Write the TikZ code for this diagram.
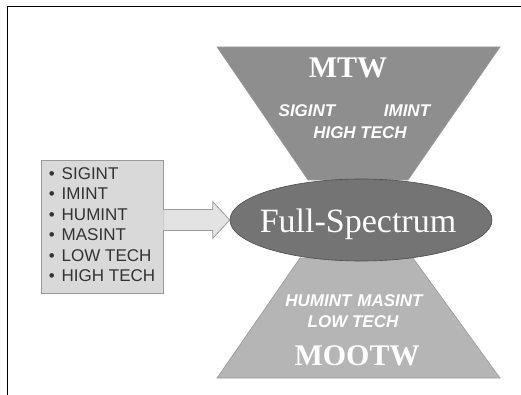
\documentclass[tikz,border=0pt]{standalone}
\usepackage{fontspec}
\setmainfont{Liberation Serif}
\setsansfont{Liberation Sans}
\usetikzlibrary{shapes.geometric,calc}

\definecolor{topgray}{HTML}{8E8E8E}
\definecolor{midgray}{HTML}{747474}
\definecolor{lowgray}{HTML}{B5B5B5}
\definecolor{boxgray}{HTML}{D9D9D9}
\definecolor{arrowgray}{HTML}{E3E3E3}
\definecolor{edgegray}{HTML}{9A9A9A}
\definecolor{listtext}{HTML}{333333}

\begin{document}
\begin{tikzpicture}[x=1pt, y=-1pt,
band/.style = {draw=edgegray, line width=0.6pt},
spectrum/.style = {ellipse, draw=black!70, line width=0.6pt, fill=midgray, minimum width=262pt, minimum height=82pt, inner sep=0pt},
bigword/.style = {text=white, anchor=base, inner sep=0pt, font=\fontsize{30}{30}\selectfont\bfseries},
smallword/.style = {text=white, anchor=base, inner sep=0pt, font=\fontsize{17}{17}\selectfont\sffamily\bfseries\itshape},
listbox/.style = {draw=edgegray, line width=0.8pt, fill=boxgray, minimum width=122pt, minimum height=133pt, inner sep=0pt, text=listtext},
blockarrow/.style = {draw=edgegray, line width=0.8pt, fill=arrowgray},
]

\useasboundingbox (0,0) rectangle (521,395);

% Draw frame
\draw[line width=1pt] (7,395) -- (7,7) -- (521,7);

% Draw the two bands
\fill[topgray, band] (217,47) -- (500,47) -- (408,180) -- (308,180) -- cycle;
\fill[lowgray, band] (300,258) -- (413,258) -- (500,378) -- (217,378) -- cycle;

% Draw list and centre
\node[listbox] (list) at (102,226.5) {\fontsize{17}{20.4}\selectfont\sffamily
\begin{tabular}{@{}l@{\hspace{7pt}}l@{}}
\textbullet & SIGINT\\
\textbullet & IMINT\\
\textbullet & HUMINT\\
\textbullet & MASINT\\
\textbullet & LOW TECH\\
\textbullet & HIGH TECH
\end{tabular}};
\node[spectrum] (full) at (361,220) {};
\node[text=white, anchor=base, inner sep=0pt, font=\fontsize{34}{34}\selectfont] (fulltext) at (358,232) {Full-Spectrum};

% Draw arrow
\draw[blockarrow] ($(list.east |- full.west)+(0,-10.5)$) -- ($(full.west)+(-17,-10.5)$)
  -- ($(full.west)+(-17,-18.5)$) -- (full.west) -- ($(full.west)+(-17,18.5)$)
  -- ($(full.west)+(-17,10.5)$) -- ($(list.east |- full.west)+(0,10.5)$);

% Label bands
\node[bigword] (mtw) at (348,78) {MTW};
\node[smallword] (sigint) at (307,117) {SIGINT};
\node[smallword] (imint) at (407,117) {IMINT};
\node[smallword] (hightech) at (360,139) {HIGH TECH};
\node[smallword] (humint) at (354,306) {HUMINT\hspace{6pt}MASINT};
\node[smallword] (lowtech) at (353,327) {LOW TECH};
\node[bigword] (mootw) at (357,365) {MOOTW};

\end{tikzpicture}
\end{document}
